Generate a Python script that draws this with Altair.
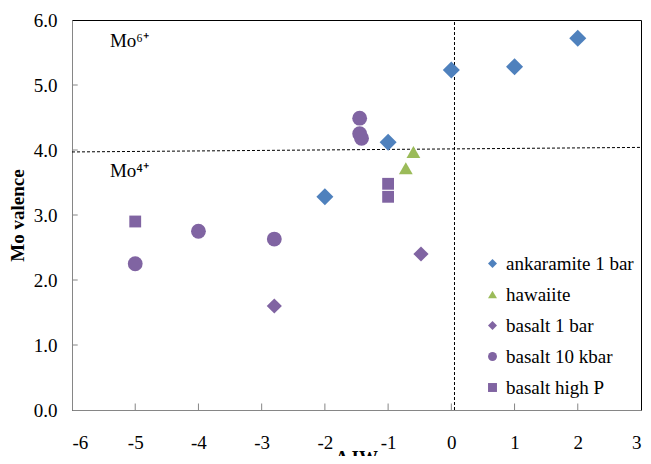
import altair as alt
import pandas as pd

series_names = ["ankaramite 1 bar", "hawaiite", "basalt 1 bar", "basalt 10 kbar", "basalt high P"]
colors = ["#4F81BD", "#9BBB59", "#8064A2", "#8064A2", "#8064A2"]
shapes = ["diamond", "triangle-up", "diamond", "circle", "square"]
sizes = [290, 190, 230, 220, 140]

ank_x = [2, 1, 0, -1, -2]
ank_y = [5.72, 5.28, 5.23, 4.12, 3.28]
haw_x = [-0.6, -0.72]
haw_y = [3.97, 3.72]
b1_x = [-2.8, -0.48]
b1_y = [1.6, 2.4]
b10_x = [-5, -4, -2.8, -1.45, -1.45, -1.42]
b10_y = [2.25, 2.75, 2.63, 4.49, 4.25, 4.18]
bhp_x = [-5, -1, -1]
bhp_y = [2.9, 3.48, 3.28]

xs = [ank_x, haw_x, b1_x, b10_x, bhp_x]
ys = [ank_y, haw_y, b1_y, b10_y, bhp_y]
rows = []
for name, sx, sy in zip(series_names, xs, ys):
    for a, b in zip(sx, sy):
        rows.append({"series": name, "x": a, "y": b})
df = pd.DataFrame(rows)

x_ticks = [-6, -5, -4, -3, -2, -1, 0, 1, 2, 3]
y_ticks = [0, 1, 2, 3, 4, 5, 6]

FONT = "Liberation Serif"
xs_scale = alt.Scale(domain=[-6, 3], nice=False, zero=False)
ys_scale = alt.Scale(domain=[0, 6], nice=False, zero=False)

x_enc = alt.X("x:Q", scale=xs_scale, title="Δ IW",
              axis=alt.Axis(values=x_ticks, grid=False, ticks=False,
                            labelExpr="datum.value < 0 ? '-' + abs(datum.value) : '' + datum.value",
                            labelPadding=23, titleBaseline="alphabetic", titleY=53))
y_enc = alt.Y("y:Q", scale=ys_scale, title="Mo valence",
              axis=alt.Axis(values=y_ticks, format=".1f", grid=False, ticks=False,
                            labelPadding=15, titlePadding=6))
color_enc = alt.Color("series:N", scale=alt.Scale(domain=series_names, range=colors),
                      legend=alt.Legend(title=None, orient="none", legendX=411, legendY=234,
                                        labelFont=FONT, labelFontSize=19, labelColor="black",
                                        symbolSize=80, rowPadding=11, labelOffset=4,
                                        symbolStrokeWidth=0))
shape_enc = alt.Shape("series:N", scale=alt.Scale(domain=series_names, range=shapes))

layers = []
for name, s in zip(series_names, sizes):
    layers.append(
        alt.Chart(df).transform_filter(alt.datum.series == name)
        .mark_point(filled=True, opacity=1, size=s)
        .encode(x=x_enc, y=y_enc, color=color_enc, shape=shape_enc)
    )

hline_df = pd.DataFrame({"x": [-6], "x2": [3], "y": [3.97], "y2": [4.04]})
hline = alt.Chart(hline_df).mark_rule(color="black", strokeDash=[3, 2], strokeWidth=1).encode(
    x=alt.X("x:Q", scale=xs_scale), x2="x2:Q", y=alt.Y("y:Q", scale=ys_scale), y2="y2:Q")
vline_df = pd.DataFrame({"x": [0.05], "y": [0], "y2": [6]})
vline = alt.Chart(vline_df).mark_rule(color="black", strokeDash=[3, 2], strokeWidth=1).encode(
    x=alt.X("x:Q", scale=xs_scale), y=alt.Y("y:Q", scale=ys_scale), y2="y2:Q")

xt_df = pd.DataFrame({"x": x_ticks[1:-1], "y": [0] * 8, "y2": [0.1] * 8})
xt = alt.Chart(xt_df).mark_rule(color="#868686", strokeWidth=1).encode(
    x=alt.X("x:Q", scale=xs_scale), y=alt.Y("y:Q", scale=ys_scale), y2="y2:Q")
yt_df = pd.DataFrame({"y": y_ticks[1:-1], "x": [-6] * 5, "x2": [-5.91] * 5})
yt = alt.Chart(yt_df).mark_rule(color="#868686", strokeWidth=1).encode(
    y=alt.Y("y:Q", scale=ys_scale), x=alt.X("x:Q", scale=xs_scale), x2="x2:Q")

lab_df = pd.DataFrame({"x": [-5.4, -5.4], "y": [5.68, 3.68], "t": ["Mo⁶⁺", "Mo⁴⁺"]})
labs = alt.Chart(lab_df).mark_text(align="left", baseline="middle", font=FONT, fontSize=19,
                                   color="black").encode(
    x=alt.X("x:Q", scale=xs_scale), y=alt.Y("y:Q", scale=ys_scale), text="t:N")

chart = alt.layer(hline, vline, xt, yt, labs, *layers).properties(
    width=569, height=390,
    autosize=alt.AutoSizeParams(type="none"),
    padding={"left": 64, "top": 12, "right": 2, "bottom": 46},
).configure_view(stroke="black", strokeWidth=1).configure_axis(
    labelFont=FONT, labelFontSize=19, labelColor="black",
    titleFont=FONT, titleFontSize=19, titleFontWeight="bold", titleColor="black",
    domainColor="#868686", domainWidth=1,
)

chart.save("out.html", embed_options={"renderer": "svg", "actions": False})
